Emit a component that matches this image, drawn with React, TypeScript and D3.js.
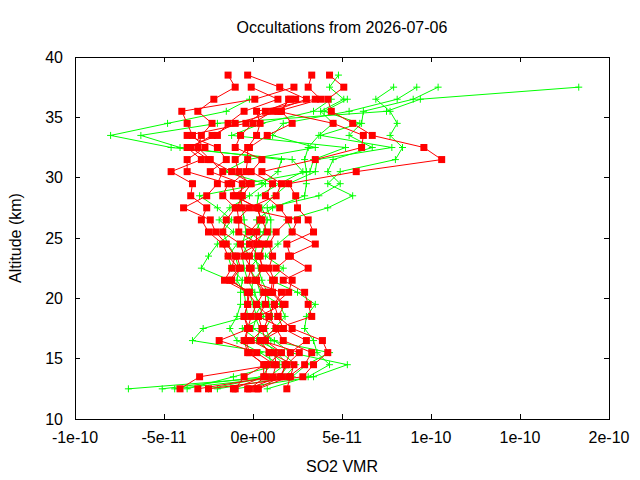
import React from "react";
import * as d3 from "d3";

// altitude levels (km), top to bottom
const altitudes = [
  38.5, 37.5, 36.5, 35.5, 34.5, 33.5, 32.5, 31.5, 30.5, 29.5, 28.5, 27.5, 26.5, 25.5,
  24.5, 23.5, 22.5, 21.5, 20.5, 19.5, 18.5, 17.5, 16.5, 15.5, 14.5, 13.5, 12.5,
];

// SO2 VMR in units of 1e-11, one row per occultation, same order as altitudes
const UNIT = 1e-11;

const redProfiles: (number | null)[][] = [
  [-1.4, -1.0, -2.2, -3.1, -2.3, -2.9, -3.1, -2.4, -1.7, -2.0, -2.6, -3.9, -2.4, -2.1, -1.5, -1.0, -1.2, -1.6, -0.3, 0.2, -0.1, -0.3, -0.5, -0.3, 0.7, -0.5, -1.0],
  [-0.3, 1.5, 3.0, 1.1, 0.0, -0.7, -1.0, 0.5, -0.1, 1.1, 0.7, 1.5, 2.0, 1.3, 0.9, 1.1, 0.9, 1.2, 1.1, 1.8, 1.4, 1.7, 3.0, 2.1, 1.8, 1.6, 0.2],
  [null, -0.1, 1.4, -0.5, -1.4, -2.0, -3.7, -2.9, -4.6, -3.4, -3.5, -2.6, -2.9, -2.5, -1.7, -1.4, -0.8, -1.3, -0.2, -0.3, -0.5, -0.2, -1.9, 0.2, 1.2, -3.0, -4.1],
  [4.3, 5.1, 4.2, 4.4, 5.6, 6.7, 9.6, 10.6, 5.8, 2.0, 2.4, 2.5, 3.1, 3.4, 1.9, 2.1, 1.3, 2.2, 2.0, 1.2, 0.9, 1.3, 0.4, 0.9, 2.3, 2.1, 1.9],
  [null, null, 2.0, 1.6, 2.2, 0.8, -0.2, -1.0, -0.8, -0.2, -1.1, 0.3, 0.4, -0.2, 0.6, 0.4, 0.5, 0.2, 0.7, 0.7, 0.3, 0.5, 0.7, 1.6, 0.8, 0.7, -0.2],
  [null, 2.3, 0.1, -4.0, -3.7, -3.4, -2.7, -3.7, -3.7, -1.4, -1.7, -1.0, -1.5, -1.7, -0.7, -0.5, -0.1, -0.3, 1.6, 1.2, 1.4, 2.2, 3.9, 4.2, 3.4, 2.8, -2.5],
  [3.3, 3.1, 3.8, 1.4, 4.5, 6.2, 6.1, 3.5, 0.5, 1.6, 1.3, -0.2, -0.9, 0.2, 0.2, -0.2, -0.2, 0.1, 0.6, 0.2, 0.9, 0.6, -0.1, 1.2, 1.3, 1.1, -3.1],
  [null, null, 2.4, 0.7, -0.4, -3.7, -2.0, -1.5, -2.4, -0.6, -0.7, -0.6, 2.5, 2.2, 3.5, 2.0, 3.1, 1.7, 2.9, 3.1, 3.3, 1.3, 1.7, 3.3, 2.9, 2.0, 0.3],
  [null, null, 3.5, 0.2, 0.4, 0.2, -0.3, -0.3, -0.4, -1.2, -1.0, 0.2, 0.5, 0.8, -0.2, 0.3, 0.6, 1.1, 1.0, 1.7, 0.3, 1.7, 0.5, 2.6, 1.9, 1.5, -0.3],
  [null, null, 2.1, 1.5, -1.0, -2.3, -3.5, -2.5, -1.2, -0.1, -0.6, -0.9, -0.8, -0.8, 0.3, -0.9, -0.7, -1.2, -0.3, -0.3, -0.5, -0.3, -0.4, -0.2, 0.6, 0.6, -1.1],
];

const greenProfiles: (number | null)[][] = [
  [4.8, 4.3, 5.1, 3.8, 4.5, 3.7, 3.1, 2.9, 3.0, 3.0, 2.9, 1.1, 0.2, 0.4, -0.9, -1.4, -1.2, -0.6, -0.7, -0.7, -0.9, -1.3, -0.9, 0.4, 1.5, -1.1, -3.7],
  [null, 7.9, 6.9, 7.7, 8.1, 7.7, 8.4, 8.0, 4.9, 4.2, 5.6, 4.2, 1.9, 2.2, 1.4, 0.7, 1.7, 1.0, 2.5, 3.5, 3.0, 2.9, 3.4, 3.6, 4.3, 3.1, 0.8],
  [null, 9.2, 8.1, 5.4, 1.7, 1.1, 3.5, -0.3, -1.6, 0.7, -0.2, -1.3, -1.9, -1.1, -2.0, -2.5, -2.9, -1.3, -0.2, 0.0, 0.2, 0.0, 1.2, 2.1, 5.3, 3.4, -1.0],
  [null, 10.4, 9.0, 6.2, 6.1, 5.4, 6.7, 4.5, 4.2, 4.9, 3.7, 0.8, 1.0, 1.0, 0.7, 0.4, -0.2, 0.2, 0.4, 1.5, 1.8, 1.2, 0.6, 1.3, 2.0, 1.5, -7.0],
  [null, 18.3, 9.4, 7.5, -2.0, -6.3, -4.1, 1.6, 1.4, 0.5, -3.0, -2.0, -1.2, -1.7, -1.4, -1.0, -0.8, -0.9, -0.5, -0.4, -0.3, -2.8, -3.4, 0.9, 1.0, 0.5, -5.1],
  [null, null, -0.2, -1.5, -4.8, -8.0, -4.6, 2.2, 2.8, 1.5, 0.3, 0.2, 0.5, 0.1, -0.3, -0.6, -0.5, -0.3, 0.1, 0.3, 0.6, -0.6, 0.3, 1.6, 2.4, 1.8, -4.4],
  [null, null, 5.3, 4.0, 6.0, 3.8, 7.8, 3.6, 3.5, 2.0, 1.2, 0.5, 0.8, 0.6, 0.2, 0.1, 0.3, 0.5, 0.8, 0.9, 1.1, 0.7, 1.0, 4.3, 3.0, 2.2, -2.0],
  [null, null, 4.4, 3.4, 0.5, -1.2, 5.2, 3.4, 3.2, -0.5, -0.8, -0.6, -0.5, -0.4, -0.6, -0.2, 0.6, 0.0, -0.1, 0.5, 0.1, 0.4, 0.2, 1.0, 1.8, 0.9, -2.5],
];

const xTickValues = [-1e-10, -5e-11, 0, 5e-11, 1e-10, 1.5e-10, 2e-10];
const xTickLabels = ["-1e-10", "-5e-11", "0e+00", "5e-11", "1e-10", "1e-10", "2e-10"];
const yTickValues = [10, 15, 20, 25, 30, 35, 40];

const W = 640;
const H = 480;
const margin = { left: 75, right: 31, top: 57, bottom: 61 };
const FONT = "'Liberation Sans', Arial, sans-serif";
const TICK = 5;

type Pt = { x: number; y: number };

const toPoints = (row: (number | null)[]) =>
  row
    .map((v, i) => (v === null ? null : { x: v * UNIT, y: altitudes[i] }))
    .filter((p): p is Pt => p !== null);

export default function App() {
  const x = d3.scaleLinear().domain([-1e-10, 2e-10]).range([margin.left, W - margin.right]);
  const y = d3.scaleLinear().domain([10, 40]).range([H - margin.bottom, margin.top]);

  const line = d3
    .line<Pt>()
    .x((d) => x(d.x))
    .y((d) => y(d.y));

  const [x0, x1] = x.range();
  const [y0, y1] = y.range();

  return (
    <svg
      width={W}
      height={H}
      style={{ position: "absolute", left: 0, top: 0, background: "#fff" }}
      fontFamily={FONT}
      fontSize={16}
    >
      <g clipPath="url(#plot)">
        {greenProfiles.map((row, i) => {
          const pts = toPoints(row);
          return (
            <g key={"g" + i} stroke="#00ff00" strokeWidth={1} fill="none">
              <path d={line(pts) ?? ""} />
              {pts.map((p, j) => (
                <path
                  key={j}
                  d={`M${x(p.x) - 3.5},${y(p.y)}h7M${x(p.x)},${y(p.y) - 3.5}v7`}
                />
              ))}
            </g>
          );
        })}
        {redProfiles.map((row, i) => {
          const pts = toPoints(row);
          return (
            <g key={"r" + i}>
              <path d={line(pts) ?? ""} stroke="#ff0000" strokeWidth={1} fill="none" />
              {pts.map((p, j) => (
                <rect key={j} x={x(p.x) - 3.5} y={y(p.y) - 3.5} width={7} height={7} fill="#ff0000" />
              ))}
            </g>
          );
        })}
      </g>
      <defs>
        <clipPath id="plot">
          <rect x={x0} y={y1} width={x1 - x0} height={y0 - y1} />
        </clipPath>
      </defs>

      {/* frame with mirrored inward ticks */}
      <g stroke="#000" strokeWidth={1} fill="none" shapeRendering="crispEdges">
        <rect x={x0} y={y1} width={x1 - x0} height={y0 - y1} />
        {xTickValues.map((t, i) => (
          <g key={"xt" + i}>
            <line x1={x(t)} x2={x(t)} y1={y0} y2={y0 - TICK} />
            <line x1={x(t)} x2={x(t)} y1={y1} y2={y1 + TICK} />
          </g>
        ))}
        {yTickValues.map((t, i) => (
          <g key={"yt" + i}>
            <line x1={x0} x2={x0 + TICK} y1={y(t)} y2={y(t)} />
            <line x1={x1} x2={x1 - TICK} y1={y(t)} y2={y(t)} />
          </g>
        ))}
      </g>

      {xTickValues.map((t, i) => (
        <text key={"xl" + i} x={x(t)} y={y0 + 24} textAnchor="middle">
          {xTickLabels[i]}
        </text>
      ))}
      {yTickValues.map((t) => (
        <text key={"yl" + t} x={x0 - 12} y={y(t) + 5.5} textAnchor="end">
          {t}
        </text>
      ))}

      <text x={(x0 + x1) / 2} y={33} textAnchor="middle">
        Occultations from 2026-07-06
      </text>
      <text x={(x0 + x1) / 2} y={472} textAnchor="middle">
        SO2 VMR
      </text>
      <text transform={`translate(21,${(y0 + y1) / 2}) rotate(-90)`} textAnchor="middle">
        Altitude (km)
      </text>
    </svg>
  );
}
